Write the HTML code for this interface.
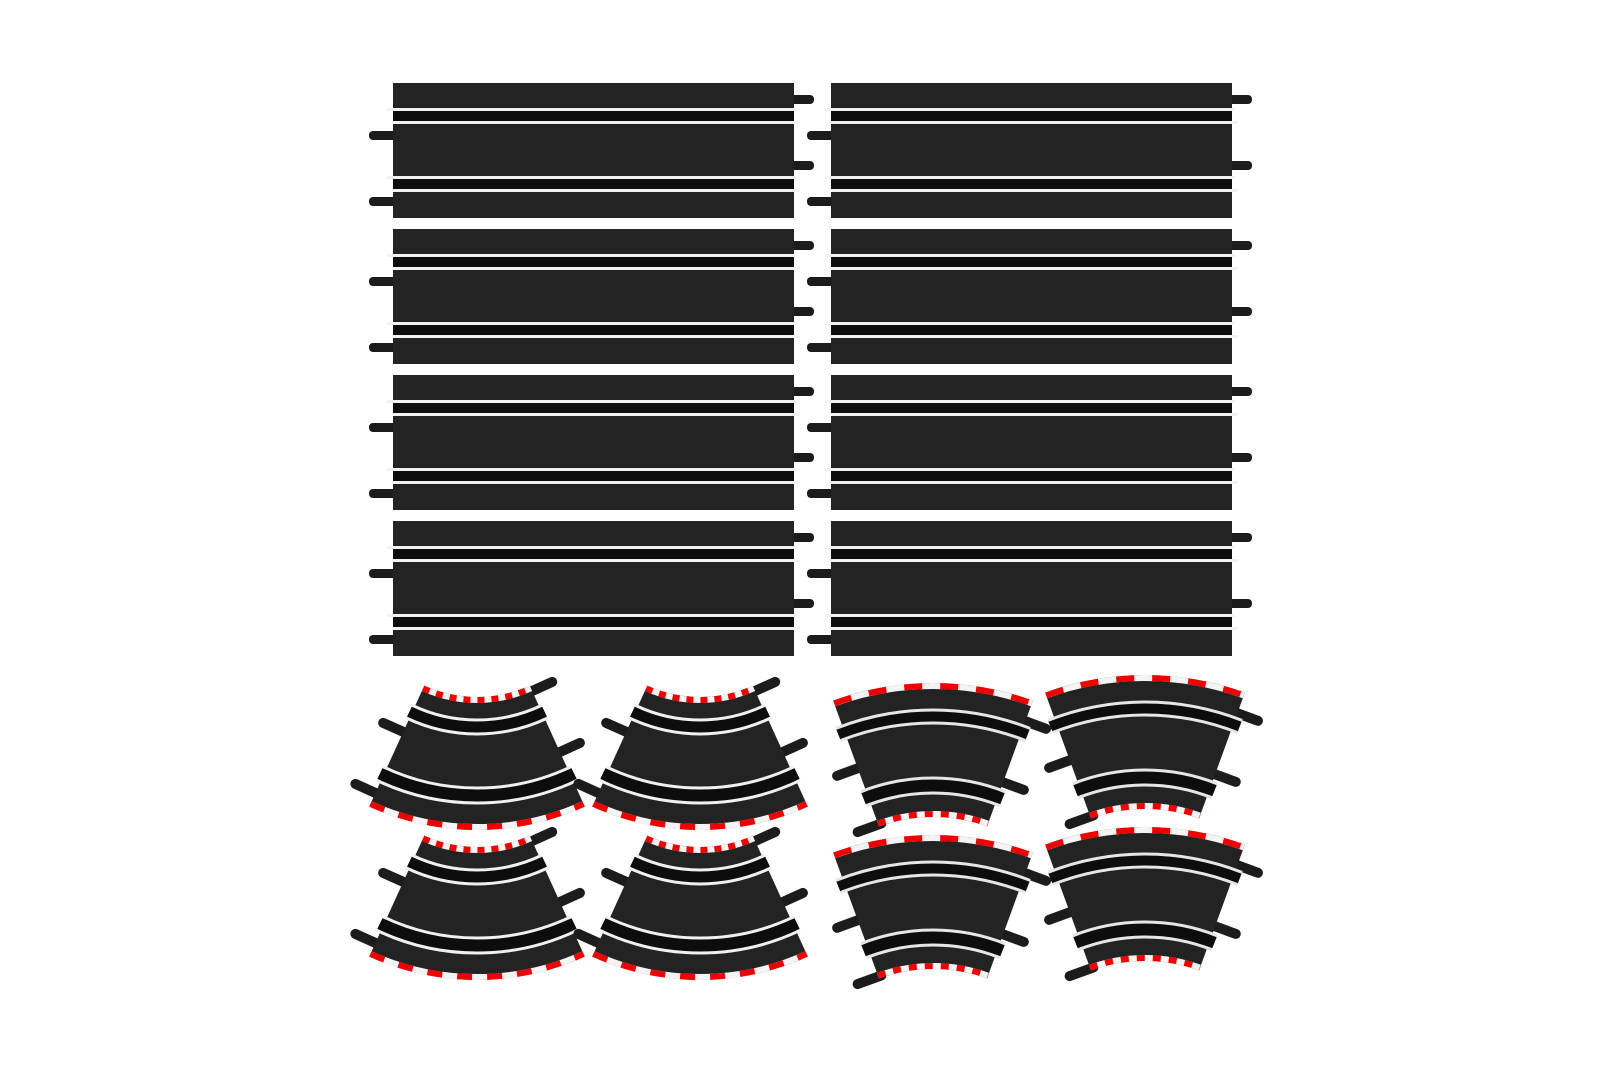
<!DOCTYPE html>
<html><head><meta charset="utf-8"><style>html,body{margin:0;padding:0;background:#fff;}svg{display:block}</style></head>
<body>
<svg width="1600" height="1067" viewBox="0 0 1600 1067" xmlns="http://www.w3.org/2000/svg">
<defs>
<g id="s">
  <rect x="-24" y="48" width="30" height="9" rx="4" fill="#1c1c1c"/>
  <rect x="-24" y="114" width="30" height="9" rx="4" fill="#1c1c1c"/>
  <rect x="396" y="12" width="25" height="9" rx="4" fill="#1c1c1c"/>
  <rect x="396" y="78" width="25" height="9" rx="4" fill="#1c1c1c"/>
  <rect x="0" y="0" width="401" height="135" fill="#232323"/>
  <rect x="0" y="27" width="401" height="12" fill="#0d0d0d"/>
  <rect x="0" y="95" width="401" height="12" fill="#0d0d0d"/>
  <rect x="-6" y="25" width="410" height="3" fill="#f2f2f2"/>
  <rect x="0" y="38" width="407" height="3" fill="#f2f2f2"/>
  <rect x="-6" y="93" width="410" height="3" fill="#f2f2f2"/>
  <rect x="0" y="106" width="407" height="3" fill="#f2f2f2"/>
</g>
<g id="a">
  <g stroke="#1c1c1c" stroke-width="10" stroke-linecap="round">
    <line x1="-70" y1="163.5" x2="-93.8" y2="152.9"/>
    <line x1="-98" y1="224.6" x2="-121.6" y2="213.9"/>
    <line x1="52" y1="122.4" x2="75.2" y2="111.9"/>
    <line x1="80" y1="183.3" x2="102.9" y2="172.9"/>
  </g>
  <path d="M-52.7,115.6 A127,127 0 0 0 52.7,115.6 L107.8,236.6 A260,260 0 0 1 -107.8,236.6 Z" fill="#232323"/>
  <g fill="none" stroke-linecap="butt">
    <path d="M-67.6,141.7 A157,157 0 0 0 67.6,141.7" stroke="#0d0d0d" stroke-width="12"/>
    <path d="M-97.1,203.5 A225.5,225.5 0 0 0 97.1,203.5" stroke="#0d0d0d" stroke-width="12"/>
    <path d="M-64.6,135.4 A150,150 0 0 0 64.6,135.4" stroke="#f0f0f0" stroke-width="3"/>
    <path d="M-70.6,148 A164,164 0 0 0 70.6,148" stroke="#f0f0f0" stroke-width="3"/>
    <path d="M-93.8,196.8 A218,218 0 0 0 93.8,196.8" stroke="#f0f0f0" stroke-width="3"/>
    <path d="M-100.3,210.3 A233,233 0 0 0 100.3,210.3" stroke="#f0f0f0" stroke-width="3"/>
    <path d="M-53.9,118.3 A130,130 0 0 0 53.9,118.3" stroke="#f4f4f4" stroke-width="6"/>
    <path d="M-53.9,118.3 A130,130 0 0 0 53.9,118.3" stroke="#e00" stroke-width="6" stroke-dasharray="7 7"/>
    <path d="M-106.6,233.9 A257,257 0 0 0 106.6,233.9" stroke="#f4f4f4" stroke-width="6"/>
    <path d="M-106.6,233.9 A257,257 0 0 0 106.6,233.9" stroke="#e00" stroke-width="6" stroke-dasharray="15 15"/>
  </g>
</g>
<g id="b">
  <g stroke="#1c1c1c" stroke-width="10" stroke-linecap="round">
    <line x1="-72" y1="-207.9" x2="-95.9" y2="-199.2"/>
    <line x1="-51.5" y1="-151.6" x2="-75.4" y2="-142.9"/>
    <line x1="89" y1="-255" x2="113" y2="-246.2"/>
    <line x1="67" y1="-193.8" x2="90.8" y2="-185.1"/>
  </g>
  <path d="M-99.9,-274.4 A292,292 0 0 1 99.9,-274.4 L54,-148.5 A158,158 0 0 0 -54,-148.5 Z" fill="#232323"/>
  <g fill="none">
    <path d="M-94.7,-240.5 A258.5,258.5 0 0 1 94.7,-240.5" stroke="#0d0d0d" stroke-width="12"/>
    <path d="M-69.5,-176.3 A189.5,189.5 0 0 1 69.5,-176.3" stroke="#0d0d0d" stroke-width="12"/>
    <path d="M-97.1,-246.6 A265,265 0 0 1 97.1,-246.6" stroke="#e6e6e6" stroke-width="3"/>
    <path d="M-92.4,-234.5 A252,252 0 0 1 92.4,-234.5" stroke="#e6e6e6" stroke-width="3"/>
    <path d="M-72.2,-183.3 A197,197 0 0 1 72.2,-183.3" stroke="#e6e6e6" stroke-width="3"/>
    <path d="M-66.7,-169.3 A182,182 0 0 1 66.7,-169.3" stroke="#e6e6e6" stroke-width="3"/>
    <path d="M-98.8,-271.6 A289,289 0 0 1 98.8,-271.6" stroke="#f4f4f4" stroke-width="6"/>
    <path d="M-98.8,-271.6 A289,289 0 0 1 98.8,-271.6" stroke="#e00" stroke-width="6" stroke-dasharray="18 18"/>
    <path d="M-55.1,-151.3 A161,161 0 0 1 55.1,-151.3" stroke="#f4f4f4" stroke-width="6"/>
    <path d="M-55.1,-151.3 A161,161 0 0 1 55.1,-151.3" stroke="#e00" stroke-width="6" stroke-dasharray="8 8"/>
  </g>
</g>
</defs>
<use href="#s" x="393" y="83"/>
<use href="#s" x="831" y="83"/>
<use href="#s" x="393" y="229"/>
<use href="#s" x="831" y="229"/>
<use href="#s" x="393" y="375"/>
<use href="#s" x="831" y="375"/>
<use href="#s" x="393" y="521"/>
<use href="#s" x="831" y="521"/>
<use href="#a" x="477" y="570"/>
<use href="#a" x="700" y="570"/>
<use href="#a" x="477" y="720"/>
<use href="#a" x="700" y="720"/>
<use href="#b" x="933" y="975"/>
<use href="#b" x="1145" y="967"/>
<use href="#b" x="933" y="1127"/>
<use href="#b" x="1145" y="1119"/>
</svg>
</body></html>
